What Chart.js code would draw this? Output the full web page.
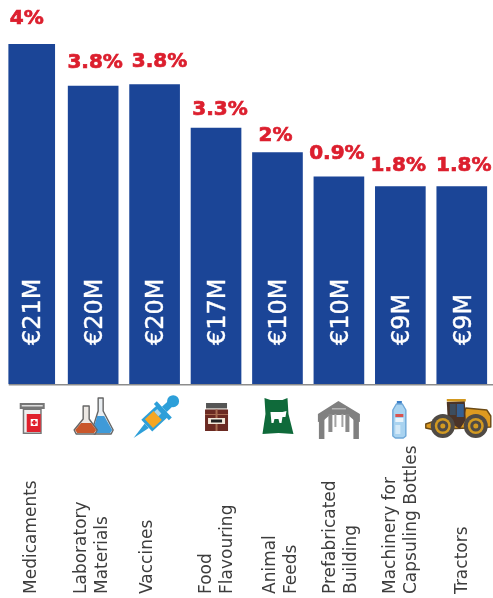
<!DOCTYPE html>
<html>
<head>
<meta charset="utf-8">
<style>
  html, body { margin: 0; padding: 0; background: white; }
  canvas { display: block; }
</style>
<script src="https://cdn.jsdelivr.net/npm/chart.js@4"></script>
</head>
<body>
<canvas id="canvas" width="493" height="598"></canvas>
<script>
// Chart data
const categories = [
    ['Medicaments'],
    ['Laboratory', 'Materials'],
    ['Vaccines'],
    ['Food', 'Flavouring'],
    ['Animal', 'Feeds'],
    ['Prefabricated', 'Building'],
    ['Machinery for', 'Capsuling Bottles'],
    ['Tractors']
];
// Bars in the original are not to scale with their labels, so these are bar heights on a 0-21 scale
const barValues = [21, 18.4, 18.5, 15.8, 14.3, 12.8, 12.2, 12.2];
const amountLabels = ['€21M', '€20M', '€20M', '€17M', '€10M', '€10M', '€9M', '€9M'];
const shareLabels = ['4%', '3.8%', '3.8%', '3.3%', '2%', '0.9%', '1.8%', '1.8%'];

// Hand placement of the texts, they do not sit evenly in the original
const shareShiftX = [-5, 2, 5, 4, -2, -2, -2, 2];
const shareGapY = [20, 18, 17, 13, 11, 18, 15, 15];
const labelShiftX = [0, -1, -7, 1, 4, 2, 1, 1];

const BLUE = '#1b4597';
const RED = '#dc1f2e';

// Small helpers for the pictograms
function rect(ctx, color, x, y, w, h) {
    ctx.fillStyle = color;
    ctx.fillRect(x, y, w, h);
}

function poly(ctx, color, pts, stroke) {
    ctx.beginPath();
    pts.forEach((p, i) => i ? ctx.lineTo(p[0], p[1]) : ctx.moveTo(p[0], p[1]));
    ctx.closePath();
    ctx.fillStyle = color;
    ctx.fill();
    if (stroke) {
        ctx.strokeStyle = stroke;
        ctx.lineWidth = 1.4;
        ctx.lineJoin = 'round';
        ctx.stroke();
    }
}

function disc(ctx, color, x, y, r) {
    ctx.beginPath();
    ctx.arc(x, y, r, 0, Math.PI * 2);
    ctx.fillStyle = color;
    ctx.fill();
}

// Each icon: [x offset from bar centre, y offset from baseline, draw function]
const icons = [
    [-12, 19, function (ctx) { // medicine jar
        rect(ctx, '#777', 3, 6, 19, 25);
        rect(ctx, '#eee', 4.5, 7, 16, 22.5);
        rect(ctx, '#e0202c', 7, 11, 14, 18);
        rect(ctx, 'white', 11, 16, 7, 7);
        rect(ctx, '#e0202c', 13.5, 17, 2, 5);
        rect(ctx, '#e0202c', 12, 18.5, 5, 2);
        rect(ctx, '#777', 0, 0, 25, 6);
        rect(ctx, '#ddd', 2, 2, 21, 1.5);
    }],
    [-20, 13, function (ctx) { // lab flasks
        poly(ctx, '#e9eef2', [[25, 1], [30, 1], [30, 14], [40, 33], [38, 37], [21, 37], [19, 33], [25, 14]], '#666');
        poly(ctx, '#3f9ad8', [[24, 19], [31, 19], [39, 33], [37, 36], [22, 36], [20, 33]]);
        poly(ctx, '#ece8e4', [[10, 9], [16, 9], [16, 22], [24, 33], [22, 37], [3, 37], [1, 33], [10, 22]], '#666');
        poly(ctx, '#c9572b', [[8, 26], [18, 26], [23, 33], [21, 36], [4, 36], [2, 33]]);
    }],
    [-21, 54, function (ctx) { // syringe, drawn along its own axis
        ctx.rotate(-43 * Math.PI / 180);
        const c = '#2d9fd9';
        poly(ctx, c, [[0, 0], [18, -3], [18, 3]]);
        rect(ctx, c, 18, -8, 21, 16);
        rect(ctx, '#f5a623', 21, -6, 12, 12);
        rect(ctx, '#a7d5ee', 33, -5, 4, 6);
        rect(ctx, c, 38, -11, 4, 22);
        rect(ctx, c, 42, -3.5, 9, 7);
        disc(ctx, c, 54, 0, 6);
    }],
    [-11, 19, function (ctx) { // spice jar
        rect(ctx, '#555', 1, 0, 21, 5);
        rect(ctx, '#b9b4ae', 1, 5, 21, 1.5);
        rect(ctx, '#6b2a22', 0, 6.5, 23, 21.5);
        rect(ctx, '#a86b50', 10.5, 6.5, 2, 21.5);
        rect(ctx, '#a86b50', 0, 11, 23, 1);
        rect(ctx, '#f1e7d8', 3, 15, 17, 6);
        rect(ctx, '#222', 6, 16.5, 11, 3);
    }],
    [-15, 14, function (ctx) { // feed sack with cow
        poly(ctx, '#0f6a3a', [[2, 0], [8, 2], [20, 2], [25, 0], [26, 16], [31, 36], [16, 35], [0, 36], [3, 16]]);
        poly(ctx, 'white', [[8, 14], [20, 14], [24, 13], [23, 19], [20, 19], [19, 25], [17, 25], [16, 21], [12, 21], [11, 25], [9, 25]]);
    }],
    [-21, 17, function (ctx) { // pavilion
        const g = '#808080';
        poly(ctx, g, [[20.5, 0], [42, 13], [42, 21], [37, 20], [30, 14], [12, 14], [5, 20], [0, 21], [0, 13]]);
        rect(ctx, '#b5b5b5', 14, 7, 14, 1.5);
        rect(ctx, g, 1, 15, 5.5, 23);
        rect(ctx, g, 35.5, 15, 5.5, 23);
        rect(ctx, '#8a8a8a', 10.5, 13, 4, 18);
        rect(ctx, '#8a8a8a', 27.5, 13, 4, 18);
        rect(ctx, '#a3a3a3', 16.5, 13, 2, 13);
        rect(ctx, '#a3a3a3', 23.5, 13, 2, 13);
    }],
    [-8, 17, function (ctx) { // water bottle
        rect(ctx, '#3a7fc8', 4.5, 0, 5, 3);
        poly(ctx, '#a9d3f0', [[4, 3], [10, 3], [13.5, 9], [13.5, 35], [11, 37], [3, 37], [0.5, 35], [0.5, 9]], '#6fa8d8');
        rect(ctx, '#e8f4fc', 3, 17, 8, 4);
        rect(ctx, '#d9534f', 3, 13, 8, 3);
        rect(ctx, '#d3e9f8', 3, 24, 5, 9);
    }],
    [-37, 15, function (ctx) { // tractor
        poly(ctx, '#dd9a20', [[20, 19], [38, 19], [41, 9], [62, 11], [66, 17], [66, 28], [20, 30]], '#6b4a16');
        poly(ctx, '#dd9a20', [[1, 25], [10, 22], [22, 18], [28, 26], [10, 31], [1, 29]], '#6b4a16');
        poly(ctx, '#4b3428', [[22, 3], [40, 2], [41, 21], [35, 30], [23, 22]]);
        rect(ctx, '#d2981f', 22, 0, 19, 2.5);
        rect(ctx, '#355f92', 32, 5, 7, 13);
        rect(ctx, '#3d4d5e', 25, 5, 6, 11);
        [[18, 27], [51, 27]].forEach(w => {
            disc(ctx, '#4f4a45', w[0], w[1], 12);
            disc(ctx, '#d29a22', w[0], w[1], 8);
            disc(ctx, '#4f4a45', w[0], w[1], 5.5);
            disc(ctx, '#d29a22', w[0], w[1], 2.5);
        });
    }]
];

// Draws everything Chart.js has no option for: the texts, the axis line and the icons
const extrasPlugin = {
    id: 'extras',
    afterDatasetsDraw(chart) {
        const ctx = chart.ctx;
        const bars = chart.getDatasetMeta(0).data;
        const xAxis = chart.scales.x;
        const base = chart.scales.y.getPixelForValue(0);

        // Axis line
        ctx.save();
        ctx.fillStyle = '#8c8c8c';
        ctx.fillRect(bars[0].x - 23, base, chart.width - bars[0].x + 23, 1.5);
        ctx.restore();

        bars.forEach((bar, i) => {
            // Red share above the bar, stroked a little to get the heavy look
            ctx.save();
            ctx.fillStyle = RED;
            ctx.strokeStyle = RED;
            ctx.lineWidth = 0.7;
            ctx.font = 'bold 20px "DejaVu Sans"';
            ctx.textAlign = 'center';
            ctx.textBaseline = 'alphabetic';
            ctx.fillText(shareLabels[i], bar.x + shareShiftX[i], bar.y - shareGapY[i]);
            ctx.strokeText(shareLabels[i], bar.x + shareShiftX[i], bar.y - shareGapY[i]);
            ctx.restore();

            // White amount inside the bar
            ctx.save();
            ctx.translate(bar.x + 2.5, base - 39);
            ctx.rotate(-Math.PI / 2);
            ctx.fillStyle = 'white';
            ctx.strokeStyle = 'white';
            ctx.lineWidth = 0.4;
            ctx.font = '24px "DejaVu Sans"';
            ctx.textAlign = 'left';
            ctx.textBaseline = 'middle';
            ctx.fillText(amountLabels[i], 0, 0);
            ctx.strokeText(amountLabels[i], 0, 0);
            ctx.restore();

            // Icon under the axis, slightly soft like the original
            ctx.save();
            ctx.filter = 'blur(0.5px)';
            ctx.translate(bar.x + icons[i][0], base + icons[i][1]);
            icons[i][2](ctx);
            ctx.restore();

            // Category name, one or two lines, reading upwards
            const lines = categories[i];
            const cx = xAxis.getPixelForValue(i) + labelShiftX[i];
            lines.forEach((line, n) => {
                ctx.save();
                ctx.translate(cx + (n - (lines.length - 1) / 2) * 21, 594);
                ctx.rotate(-Math.PI / 2);
                ctx.fillStyle = '#3d3d3d';
                ctx.font = '17px "DejaVu Sans"';
                ctx.textAlign = 'left';
                ctx.textBaseline = 'middle';
                ctx.fillText(line, 0, 0);
                ctx.restore();
            });
        });
    }
};

new Chart(document.getElementById('canvas').getContext('2d'), {
    type: 'bar',
    data: {
        labels: categories,
        datasets: [{
            data: barValues,
            backgroundColor: BLUE,
            barThickness: 50,
            // The first bar is narrower in the original
            borderColor: 'white',
            borderSkipped: false,
            borderWidth: c => c.dataIndex === 0 ? { left: 2, right: 2, top: 0, bottom: 0 } : 0
        }]
    },
    options: {
        responsive: false,
        animation: false,
        layout: { padding: { left: 1, right: 0.5, top: 44, bottom: 214 } },
        scales: {
            x: { display: false },
            y: { display: false, min: 0, max: 21 }
        },
        plugins: {
            legend: { display: false },
            tooltip: { enabled: false }
        }
    },
    plugins: [extrasPlugin]
});
</script>
</body>
</html>
